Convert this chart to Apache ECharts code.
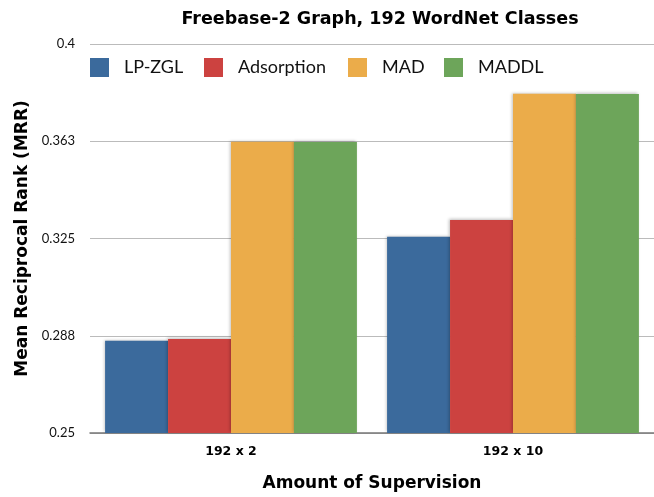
<!DOCTYPE html>
<html><head><meta charset="utf-8">
<script src="https://cdn.jsdelivr.net/npm/echarts@6/dist/echarts.min.js"></script>
<style>html,body{margin:0;padding:0;background:#fff}#c{width:654px;height:497px}</style>
</head><body><div id="c"></div>
<script>
const categories = ['192 x 2', '192 x 10'];
const seriesNames = ['LP-ZGL', 'Adsorption', 'MAD', 'MADDL'];
const lpzgl = [0.2856, 0.3257];
const adsorption = [0.2862, 0.3321];
const mad = [0.3623, 0.3808];
const maddl = [0.3622, 0.3807];
const yTickLabels = ['0.25', '0.288', '0.325', '0.363', '0.4'];
const colors = ['#3b6a9c', '#cc4240', '#ebac4a', '#6da55a'];
const values = [lpzgl, adsorption, mad, maddl];
const legendLeft = [90, 204, 348, 444];
const FONT = 'Lato, "Open Sans", sans-serif';
const BOLDFONT = '"DejaVu Sans", sans-serif';

const chart = echarts.init(document.getElementById('c'), null, {renderer: 'canvas'});
chart.setOption({
  animation: false,
  textStyle: {fontFamily: FONT},
  title: {
    text: 'Freebase-2 Graph, 192 WordNet Classes',
    left: 375, top: 5, textAlign: 'center',
    textStyle: {fontFamily: BOLDFONT, fontWeight: 'bold', fontSize: 17.5, color: '#000'}
  },
  legend: seriesNames.map((n, i) => ({
    data: [n], left: legendLeft[i], top: 58, padding: 0,
    itemWidth: 19, itemHeight: 19, icon: 'rect', itemGap: 0,
    textStyle: {fontFamily: FONT, fontSize: 18, color: '#111', padding: [0, 0, 0, 10]}
  })),
  grid: {left: 90, right: -7, top: 44, bottom: 64, containLabel: false},
  xAxis: {
    type: 'category', data: categories,
    name: 'Amount of Supervision', nameLocation: 'middle', nameGap: 42,
    nameTextStyle: {fontFamily: BOLDFONT, fontWeight: 'bold', fontSize: 17, color: '#000'},
    axisLine: {lineStyle: {color: '#777', width: 1.5}},
    axisTick: {show: false},
    axisLabel: {fontFamily: BOLDFONT, fontWeight: 'bold', fontSize: 12.5, color: '#000', margin: 12}
  },
  yAxis: {
    type: 'value', min: 0.25, max: 0.4, interval: 0.0375,
    name: 'Mean Reciprocal Rank (MRR)', nameLocation: 'middle', nameGap: 59, nameRotate: 90,
    nameTextStyle: {fontFamily: BOLDFONT, fontWeight: 'bold', fontSize: 17, color: '#000'},
    axisLine: {show: false},
    axisTick: {show: false},
    splitLine: {lineStyle: {color: '#bbb', width: 1}},
    axisLabel: {
      fontFamily: FONT, fontSize: 13, color: '#111', margin: 15,
      formatter: (v, i) => yTickLabels[i]
    }
  },
  series: seriesNames.map((n, i) => ({
    name: n, type: 'bar', data: values[i],
    barGap: '0%', barCategoryGap: '10.7%',
    itemStyle: {color: colors[i], shadowColor: 'rgba(0,0,0,0.25)', shadowBlur: 3, shadowOffsetX: -1, shadowOffsetY: -1}
  }))
});
</script></body></html>
